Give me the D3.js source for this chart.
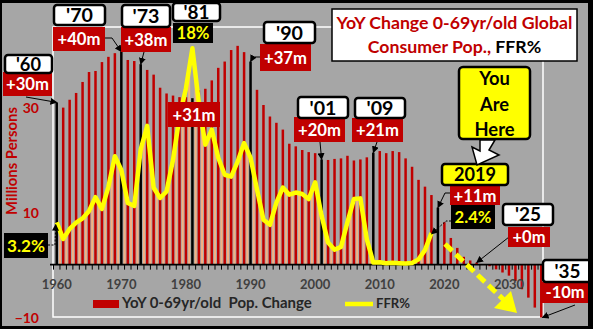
<!DOCTYPE html>
<html><head><meta charset="utf-8">
<script src="https://cdn.jsdelivr.net/npm/d3@7"></script>
<style>
html,body{margin:0;padding:0;background:#a6a6a6;}
svg{display:block;}
text{font-family:Lato,"DejaVu Sans",sans-serif;font-weight:bold;}
</style>
</head><body>
<svg id="c" width="593" height="329"></svg>
<script>
// ---------- DATA ----------
const years = d3.range(1960, 2036);
const popChange = [
  31.0, 30.0, 31.5, 32.8, 34.9, 36.8, 37.0, 38.7, 39.7, 40.4,
  40.7, 39.1, 38.9, 38.3, 37.2, 36.3, 33.8, 32.7, 32.3, 32.0,
  32.0, 31.8, 33.3, 33.6, 35.2, 37.6, 38.8, 41.0, 41.8, 40.6,
  38.8, 33.4, 30.5, 28.3, 27.1, 25.8, 23.1, 22.6, 21.9, 21.5,
  21.3, 20.1, 20.0, 20.2, 20.3, 20.8, 19.9, 20.1, 20.5, 21.4,
  21.7, 21.3, 21.7, 21.5, 20.3, 18.7, 16.2, 14.9, 13.3, 10.9,
  8.1, 5.1, 3.2, 1.5, 0.8, 0.4, 0.1, -0.3, -0.9, -1.5,
  -2.1, -3.1, -4.7, -6.3, -8.2, -10.1
];
const highlightYears = [1960, 1970, 1973, 1981, 1990, 2001, 2009, 2019];
const ffrYears = d3.range(1960, 2019);
const ffr = [
  3.2, 1.95, 2.71, 3.18, 3.5, 4.07, 5.11, 4.22, 5.9, 8.21,
  7.17, 4.67, 4.44, 8.74, 10.51, 5.82, 5.05, 5.54, 7.94, 11.2,
  13.35, 16.39, 12.24, 9.09, 10.23, 8.1, 6.81, 6.66, 7.8, 9.21,
  8.1, 5.69, 3.4, 3.02, 4.7, 5.84, 5.3, 5.46, 5.35, 4.97,
  6.24, 3.7, 1.67, 1.13, 1.35, 3.22, 4.97, 5.02, 1.92, 0.16,
  0.18, 0.1, 0.14, 0.11, 0.09, 0.13, 0.4, 1.1, 2.4
];
const xTickYears = [1960, 1970, 1980, 1990, 2000, 2010, 2020, 2030];
const yTickValues = [30, 10, -10];
const popLabels = [
  {year:1960, t:"+30m"}, {year:1970, t:"+40m"}, {year:1973, t:"+38m"},
  {year:1981, t:"+31m"}, {year:1990, t:"+37m"}, {year:2001, t:"+20m"},
  {year:2009, t:"+21m"}, {year:2019, t:"+11m"}, {year:2025, t:"+0m"},
  {year:2035, t:"-10m"}
];
const yearLabels = ["'60","'70","'73","'81","'90","'01","'09","2019","'25","'35"];
const ffrLabels = [{year:1981, t:"18%"}, {year:1960, t:"3.2%"}, {year:2018, t:"2.4%"}];

// ---------- SETUP ----------
const W = 593, H = 329;
const svg = d3.select("#c");
const RED = "#c00000";

const x = d3.scaleBand().domain(years).range([53.5, 544.5]).padding(0);
const step = x.step();
const xc = d => x(d) + step / 2;
const y = d3.scaleLinear().domain([-10, 45.4]).range([317, 27]);
const y2 = d3.scaleLinear().domain([0, 18]).range([y(0), 27]);

function fit(node, w) {
  const l = node.getComputedTextLength();
  const fs = parseFloat(node.getAttribute("font-size"));
  const nfs = fs * w / l;
  node.setAttribute("font-size", nfs);
  return nfs;
}

svg.append("rect").attr("width", W).attr("height", H).attr("fill", "#a6a6a6");

// plot border (white)
svg.append("rect").attr("x", 53).attr("y", 27).attr("width", 490).attr("height", 290)
  .attr("fill", "none").attr("stroke", "#fff").attr("stroke-width", 1.5);

// ---------- FFR stripes (under line) ----------
const ffrData = ffrYears.map((yr, i) => ({year: yr, v: ffr[i]}));
const pairs = d3.pairs(ffrData);
svg.append("g").selectAll("rect").data(pairs).join("rect")
  .attr("x", d => xc(d[0].year) + step / 2 - 1)
  .attr("width", 2)
  .attr("y", d => y2((d[0].v + d[1].v) / 2))
  .attr("height", d => y2(0) - y2((d[0].v + d[1].v) / 2))
  .attr("fill", "#f4b183");

// ---------- population bars ----------
const popData = years.map((yr, i) => ({year: yr, v: popChange[i]}));
svg.append("g").selectAll("rect").data(popData).join("rect")
  .attr("x", d => xc(d.year) - 1.25)
  .attr("width", 2.5)
  .attr("y", d => Math.min(y(d.v), y(0)))
  .attr("height", d => Math.abs(y(d.v) - y(0)))
  .attr("fill", d => highlightYears.includes(d.year) ? "#000" : RED);

// ---------- x axis ----------
svg.append("line").attr("x1", 50).attr("x2", 545).attr("y1", y(0)).attr("y2", y(0))
  .attr("stroke", "#000").attr("stroke-width", 1.6);
svg.append("g").selectAll("line").data(years.concat([2036])).join("line")
  .attr("x1", d => d === 2036 ? x(2035) + step : x(d))
  .attr("x2", d => d === 2036 ? x(2035) + step : x(d))
  .attr("y1", y(0)).attr("y2", y(0) + 5)
  .attr("stroke", "#000").attr("stroke-width", 1);

const xAxis = svg.append("g").attr("transform", `translate(0,${y(0)})`)
  .call(d3.axisBottom(x).tickValues(xTickYears).tickSize(0).tickPadding(15));
xAxis.select(".domain").remove();
xAxis.selectAll("text").attr("font-size", 13).attr("fill", "#404040")
  .attr("font-family", "Lato").attr("font-weight", "bold");

// ---------- y axis ----------
const yAxis = svg.append("g").attr("transform", "translate(53,0)")
  .call(d3.axisLeft(y).tickValues(yTickValues).tickSize(0).tickPadding(14).tickFormat(d3.format("d")));
yAxis.select(".domain").remove();
yAxis.selectAll("text").attr("font-size", 14).attr("fill", RED).attr("dy", "0.36em")
  .attr("font-family", "Lato").attr("font-weight", "bold");

const yt = svg.append("text").attr("transform", "translate(17,161) rotate(-90)")
  .attr("text-anchor", "middle").attr("font-size", 13).attr("fill", RED).text("Millions Persons");
fit(yt.node(), 108);

// ---------- FFR line ----------
svg.append("path").datum(ffrData)
  .attr("d", d3.line().x(d => xc(d.year)).y(d => y2(d.v)))
  .attr("fill", "none").attr("stroke", "#ffff00").attr("stroke-width", 4.5)
  .attr("stroke-linejoin", "round");

// ---------- annotations ----------
const defs = svg.append("defs");
defs.append("marker").attr("id", "ah").attr("viewBox", "0 0 10 10")
  .attr("refX", 9).attr("refY", 5).attr("markerWidth", 7).attr("markerHeight", 7)
  .attr("markerUnits", "userSpaceOnUse").attr("orient", "auto")
  .append("path").attr("d", "M0,0L10,5L0,10z").attr("fill", "#000");

const popVal = yr => popChange[years.indexOf(yr)];
const ffrVal = yr => ffr[ffrYears.indexOf(yr)];

const arrows = [
  {pts: [[26, 97]], to: [xc(1960), y(popVal(1960))]},
  {pts: [[105, 38], [112, 38]], to: [xc(1970), y(popVal(1970))]},
  {pts: [[144, 52]], to: [xc(1973), y(popVal(1973))]},
  {pts: [[260, 57], [253, 57]], to: [xc(1990), y(popVal(1990))]},
  {pts: [[320, 142]], to: [xc(2001), y(popVal(2001))]},
  {pts: [[377, 142]], to: [xc(2009), y(popVal(2009))]},
  {pts: [[450, 193], [445, 193]], to: [xc(2019), y(popVal(2019))]},
  {pts: [[509, 237]], to: [xc(2025), y(popVal(2025))]},
  {pts: [[575, 305]], to: [xc(2035) + 1, y(popVal(2035))]},
  {pts: [[451, 221], [446, 221]], to: [xc(2018), y2(ffrVal(2018)) + 1], dash: "2,1.5"},
  {pts: [[48, 245], [55, 245]], to: [xc(1960) - 1, y2(ffrVal(1960)) + 2], dash: "2,1.5"}
];
svg.append("g").selectAll("path").data(arrows).join("path")
  .attr("d", d => d3.line()(d.pts.concat([d.to])))
  .attr("fill", "none").attr("stroke", "#000").attr("stroke-width", 1)
  .attr("stroke-dasharray", d => d.dash || null)
  .attr("marker-end", "url(#ah)");

// big yellow dashed arrow
svg.append("line").attr("x1", 445).attr("y1", 244).attr("x2", 505).attr("y2", 301)
  .attr("stroke", "#ffff00").attr("stroke-width", 5).attr("stroke-dasharray", "10,5");
svg.append("path").attr("d", "M517,313L494,308L511,291Z").attr("fill", "#ffff00");

function box(b, fill, stroke, textFill, rx) {
  svg.append("rect").attr("x", b.x).attr("y", b.y).attr("width", b.w).attr("height", b.h)
    .attr("rx", rx).attr("fill", fill)
    .attr("stroke", stroke || "none").attr("stroke-width", stroke ? 2.5 : 0);
  const t = svg.append("text").attr("x", b.x + b.w / 2).attr("text-anchor", "middle")
    .attr("font-size", 16).attr("fill", textFill).text(b.t);
  const fs = fit(t.node(), b.tw);
  t.attr("y", b.y + b.h / 2 + fs * 0.36);
}

const yearBoxPos = [
  {x: 5, y: 55, w: 47, h: 18, tw: 25},
  {x: 54, y: 5, w: 51, h: 20, tw: 27},
  {x: 122, y: 5, w: 48, h: 22, tw: 27},
  {x: 173, y: 3, w: 47, h: 18, tw: 26},
  {x: 264, y: 22, w: 51, h: 21, tw: 27},
  {x: 298, y: 97, w: 50, h: 21, tw: 27},
  {x: 355, y: 98, w: 50, h: 20, tw: 27},
  {x: 442, y: 164, w: 66, h: 21, tw: 42},
  {x: 503, y: 204, w: 50, h: 21, tw: 26},
  {x: 543, y: 260, w: 49, h: 22, tw: 26}
];
const redBoxPos = [
  {x: 3, y: 72, w: 49, h: 24, tw: 43},
  {x: 53, y: 27, w: 52, h: 24, tw: 43},
  {x: 121, y: 27, w: 50, h: 25, tw: 43},
  {x: 168, y: 102, w: 52, h: 25, tw: 43},
  {x: 260, y: 44, w: 51, h: 27, tw: 43},
  {x: 294, y: 117, w: 51, h: 25, tw: 43},
  {x: 352, y: 118, w: 51, h: 24, tw: 43},
  {x: 450, y: 186, w: 50, h: 19, tw: 43},
  {x: 508, y: 227, w: 42, h: 20, tw: 33},
  {x: 542, y: 282, w: 46, h: 21, tw: 39}
];
const ffrBoxPos = [
  {x: 173, y: 23, w: 40, h: 20, tw: 33},
  {x: 4, y: 233, w: 44, h: 25, tw: 38},
  {x: 451, y: 205, w: 44, h: 24, tw: 37}
];

popLabels.forEach((p, i) => box(Object.assign({t: p.t}, redBoxPos[i]), RED, null, "#fff", 0));
ffrLabels.forEach((p, i) => box(Object.assign({t: p.t}, ffrBoxPos[i]), "#000", null, "#ffff00", 0));
yearLabels.forEach((t, i) => box(Object.assign({t: t}, yearBoxPos[i]),
  t === "2019" ? "#ffff00" : "#fff", "#000", "#000", 3));

// You Are Here
svg.append("rect").attr("x", 459).attr("y", 67).attr("width", 71).attr("height", 72)
  .attr("rx", 4).attr("fill", "#ffff00").attr("stroke", "#000").attr("stroke-width", 2.5);
const yah = svg.append("text").attr("x", 494.5).attr("y", 135).attr("text-anchor", "middle")
  .attr("font-size", 17).attr("fill", "#000").text("Here");
const yfs = fit(yah.node(), 40);
[["You", 78], ["Are", 104]].forEach(([t, cy]) =>
  svg.append("text").attr("x", 494.5).attr("y", cy + yfs * 0.36).attr("text-anchor", "middle")
    .attr("font-size", yfs).attr("fill", "#000").text(t));
yah.attr("y", 129 + yfs * 0.36);
svg.append("path").attr("d", "M480,140L495,140L489,150L499,155L477,165L472,147L480,151Z")
  .attr("fill", "#fff").attr("stroke", "#000").attr("stroke-width", 1.5).attr("stroke-linejoin", "miter");

// ---------- title ----------
svg.append("rect").attr("x", 332).attr("y", 9).attr("width", 245).attr("height", 52)
  .attr("fill", "#fff").attr("stroke", "#000").attr("stroke-width", 1.5);
const t1 = svg.append("text").attr("x", 454.5).attr("y", 29).attr("text-anchor", "middle")
  .attr("font-size", 17).attr("fill", RED).text("YoY Change 0-69yr/old Global");
const tfs = fit(t1.node(), 236);
const t2 = svg.append("text").attr("x", 454.5).attr("y", 53).attr("text-anchor", "middle")
  .attr("font-size", tfs);
t2.append("tspan").attr("fill", RED).text("Consumer Pop.,");
t2.append("tspan").attr("fill", "#000").text(" FFR%");

// ---------- legend ----------
svg.append("rect").attr("x", 93).attr("y", 300).attr("width", 26).attr("height", 8).attr("fill", RED);
const l1 = svg.append("text").attr("x", 122).attr("y", 308).attr("font-size", 13)
  .attr("fill", "#262626").style("white-space", "pre").text("YoY 0-69yr/old  Pop. Change");
fit(l1.node(), 190);
svg.append("line").attr("x1", 345).attr("x2", 373).attr("y1", 304).attr("y2", 304)
  .attr("stroke", "#ffff00").attr("stroke-width", 4.5);
const l2 = svg.append("text").attr("x", 376).attr("y", 308).attr("font-size", 13)
  .attr("fill", "#262626").text("FFR%");
fit(l2.node(), 34);

// ---------- outer frame ----------
svg.append("path")
  .attr("d", `M0,0H${W}V${H}H0Z M2,3V326H588V3Z`)
  .attr("fill", "#000").attr("fill-rule", "evenodd");
</script>
</body></html>
